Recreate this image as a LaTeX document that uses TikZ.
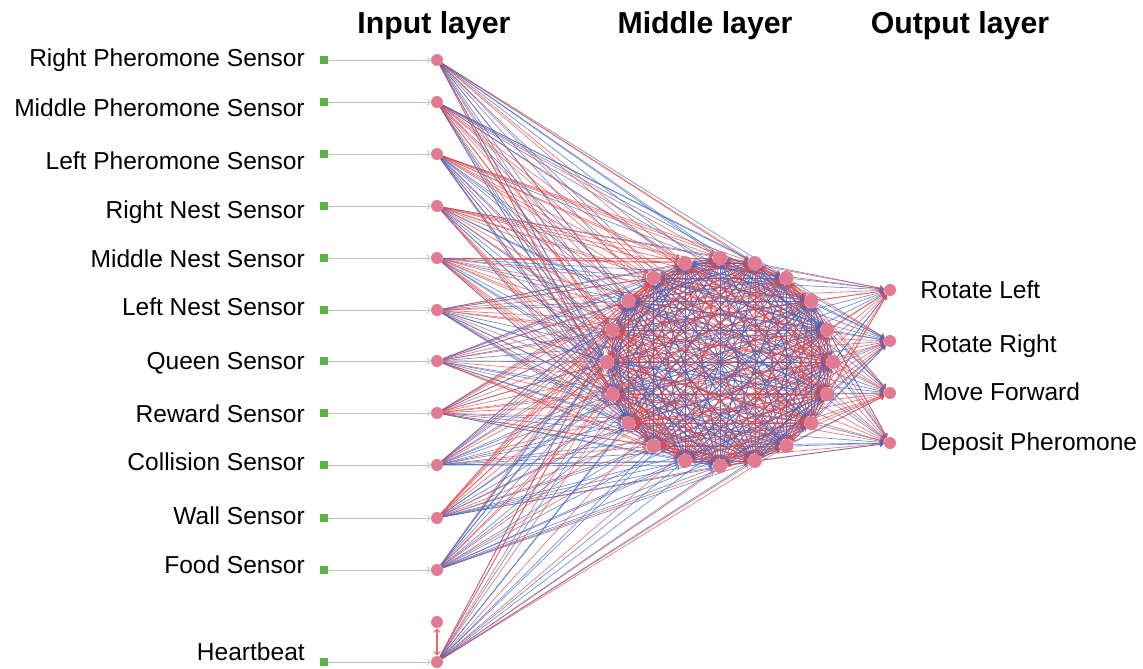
\documentclass[tikz,border=0pt]{standalone}
\usepackage{fontspec}
\setmainfont{Liberation Sans}
\usetikzlibrary{arrows.meta,backgrounds}
\definecolor{npink}{RGB}{226,122,146}
\definecolor{ngreen}{RGB}{90,178,70}
\definecolor{ered}{RGB}{226,72,72}
\definecolor{eblue}{RGB}{68,102,190}
\definecolor{fgray}{RGB}{195,195,195}
\tikzset{
  innode/.style={circle,fill=npink,draw=none,minimum size=9pt,inner sep=0pt},
  midnode/.style={circle,fill=npink,draw=none,minimum size=10.5pt,inner sep=0pt},
  outnode/.style={circle,fill=npink,draw=none,minimum size=9pt,inner sep=0pt},
  sqnode/.style={rectangle,fill=ngreen,draw=none,minimum size=5.5pt,inner sep=0pt},
  lbl/.style={inner sep=0pt,font=\fontsize{18.4pt}{21pt}\selectfont},
  ttl/.style={inner sep=0pt,font=\bfseries\fontsize{22.7pt}{26pt}\selectfont},
  feed/.style={fgray,line width=0.6pt,-{Straight Barb[length=2.5pt,width=5pt]}},
  wedge/.style={line width=0.5pt,opacity=0.75,-{Straight Barb[length=2.5pt,width=4pt]}},
  hbedge/.style={ered,line width=0.8pt,opacity=0.8,{Straight Barb[length=2.5pt,width=5pt]}-{Straight Barb[length=2.5pt,width=5pt]}}
}
\begin{document}
\begin{tikzpicture}[x=0.75pt,y=-0.75pt]
\useasboundingbox (0,0) rectangle (1143,668);
\pgfmathsetseed{11}
% titles
\node[ttl,anchor=base] (t1) at (434,33) {Input layer};
\node[ttl,anchor=base] (t2) at (705,33) {Middle layer};
\node[ttl,anchor=base] (t3) at (960,33) {Output layer};
% inputs
\foreach \i/\y/\b/\t in {1/60/66.5/Right Pheromone Sensor,2/102/116.5/Middle Pheromone Sensor,3/154/169/Left Pheromone Sensor,4/206/218.5/Right Nest Sensor,5/258/267.5/Middle Nest Sensor,6/310/315/Left Nest Sensor,7/361/369.5/Queen Sensor,8/413/422.5/Reward Sensor,9/465/470.5/Collision Sensor,10/518/524/Wall Sensor,11/570/573.5/Food Sensor,12/662/660/Heartbeat}{
  \node[innode] (in\i) at (437,\y) {};
  \node[sqnode] (sq\i) at (324,\y) {};
  \node[lbl,anchor=base east] (lb\i) at (305,\b) {\t};
}
\node[innode] (hb) at (437,622) {};
% middle layer
\foreach \k in {0,...,19}{
  \node[midnode] (m\k) at ({720+113*cos(18*\k)},{362-104*sin(18*\k)}) {};
}
% outputs
\foreach \o/\y/\b/\x/\t in {1/290/298.5/920/Rotate Left,2/341/352/920/Rotate Right,3/393/400.5/923/Move Forward,4/443/450/920/Deposit Pheromone}{
  \node[outnode] (o\o) at (890,\y) {};
  \node[lbl,anchor=base west] (ol\o) at (\x,\b) {\t};
}
\begin{pgfonlayer}{background}
  \foreach \i in {1,...,12}{
    \draw[feed] (sq\i) -- (in\i);
    \foreach \k in {0,...,19}{
      \pgfmathsetmacro\rr{rnd}
      \ifdim\rr pt<0.5pt \def\cc{ered}\else\def\cc{eblue}\fi
      \draw[wedge,\cc] (in\i) -- (m\k);
    }
  }
  \foreach \a in {0,...,19}{
    \foreach \k in {0,...,19}{
      \ifnum\a=\k\else
        \pgfmathsetmacro\rr{rnd}
        \ifdim\rr pt<0.5pt \def\cc{ered}\else\def\cc{eblue}\fi
        \draw[wedge,\cc] (m\a) -- (m\k);
      \fi
    }
    \foreach \o in {1,...,4}{
      \pgfmathsetmacro\rr{rnd}
      \ifdim\rr pt<0.5pt \def\cc{ered}\else\def\cc{eblue}\fi
      \draw[wedge,\cc] (m\a) -- (o\o);
    }
  }
  \draw[hbedge] (hb) -- (in12);
\end{pgfonlayer}
\end{tikzpicture}
\end{document}
